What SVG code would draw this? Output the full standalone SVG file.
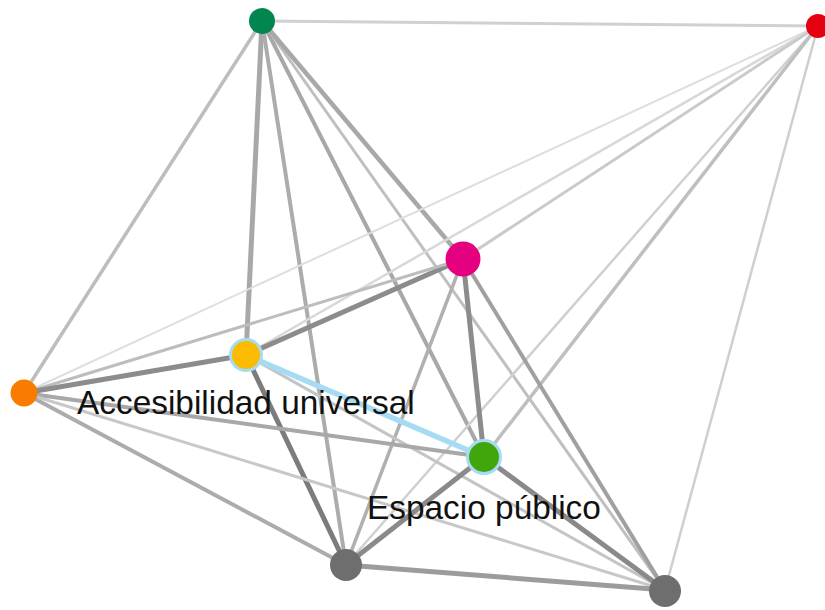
<svg xmlns="http://www.w3.org/2000/svg" width="825" height="610" viewBox="0 0 825 610">
<style>
.e{fill:none;stroke-linecap:butt}
.t{font-family:"Liberation Sans",Arial,sans-serif;font-size:33.4px;fill:#111}
.hl{stroke:#a6dcf3;stroke-width:3}
</style>
<rect width="825" height="610" fill="#fff"/>
<g id="connectors" class="e">
<line x1="262" y1="21" x2="818" y2="26" stroke="#d0d0d0" stroke-width="3"/>
<line x1="262" y1="21" x2="24" y2="393" stroke="#bdbdbd" stroke-width="3.5"/>
<line x1="262" y1="21" x2="246" y2="355" stroke="#a8a8a8" stroke-width="5"/>
<line x1="262" y1="21" x2="346" y2="565" stroke="#acacac" stroke-width="4"/>
<line x1="262" y1="21" x2="484" y2="457" stroke="#a8a8a8" stroke-width="4"/>
<line x1="262" y1="21" x2="665" y2="590" stroke="#bfbfbf" stroke-width="3"/>
<line x1="262" y1="21" x2="463" y2="259" stroke="#a8a8a8" stroke-width="4.5"/>
<line x1="818" y1="26" x2="24" y2="393" stroke="#dedede" stroke-width="2"/>
<line x1="818" y1="26" x2="246" y2="355" stroke="#d8d8d8" stroke-width="2.5"/>
<line x1="818" y1="26" x2="463" y2="259" stroke="#cacaca" stroke-width="3"/>
<line x1="818" y1="26" x2="346" y2="565" stroke="#d0d0d0" stroke-width="2.5"/>
<line x1="818" y1="26" x2="484" y2="457" stroke="#bfbfbf" stroke-width="3.5"/>
<line x1="818" y1="26" x2="665" y2="590" stroke="#cfcfcf" stroke-width="2.5"/>
<line x1="463" y1="259" x2="246" y2="355" stroke="#8c8c8c" stroke-width="5"/>
<line x1="463" y1="259" x2="24" y2="393" stroke="#bdbdbd" stroke-width="3"/>
<line x1="463" y1="259" x2="484" y2="457" stroke="#8c8c8c" stroke-width="5"/>
<line x1="463" y1="259" x2="346" y2="565" stroke="#b0b0b0" stroke-width="3.5"/>
<line x1="463" y1="259" x2="665" y2="590" stroke="#a0a0a0" stroke-width="4"/>
<line x1="246" y1="355" x2="24" y2="393" stroke="#8c8c8c" stroke-width="5"/>
<line x1="246" y1="355" x2="346" y2="565" stroke="#7c7c7c" stroke-width="5"/>
<line x1="246" y1="355" x2="665" y2="590" stroke="#c4c4c4" stroke-width="3"/>
<line x1="24" y1="393" x2="484" y2="457" stroke="#a8a8a8" stroke-width="4"/>
<line x1="24" y1="393" x2="346" y2="565" stroke="#acacac" stroke-width="4"/>
<line x1="24" y1="393" x2="665" y2="590" stroke="#c8c8c8" stroke-width="3"/>
<line x1="484" y1="457" x2="346" y2="565" stroke="#8a8a8a" stroke-width="5"/>
<line x1="484" y1="457" x2="665" y2="590" stroke="#8a8a8a" stroke-width="5"/>
<line x1="346" y1="565" x2="665" y2="590" stroke="#9c9c9c" stroke-width="5"/>
<line x1="246" y1="355" x2="484" y2="457" stroke="#a6dcf3" stroke-width="5.5"/>
</g>
<g id="n-green-dark"><circle cx="262" cy="21" r="13" fill="#00864e"/></g>
<g id="n-red"><circle cx="818" cy="26" r="12" fill="#e3000f"/></g>
<g id="n-magenta"><circle cx="463" cy="259" r="17.5" fill="#e4007f"/></g>
<g id="n-orange"><circle cx="24" cy="393" r="13.5" fill="#f97c00"/></g>
<g id="n-gray1"><circle cx="346" cy="565" r="16" fill="#6e6e6e"/></g>
<g id="n-gray2"><circle cx="665" cy="591" r="16" fill="#6e6e6e"/></g>
<g id="n-accesibilidad"><circle cx="246" cy="355" r="15.5" fill="#fbbb00" class="hl"/><text class="t" x="77" y="414">Accesibilidad universal</text></g>
<g id="n-espacio"><circle cx="484" cy="457" r="16.5" fill="#41a60c" class="hl"/><text class="t" x="367" y="519">Espacio público</text></g>
</svg>
